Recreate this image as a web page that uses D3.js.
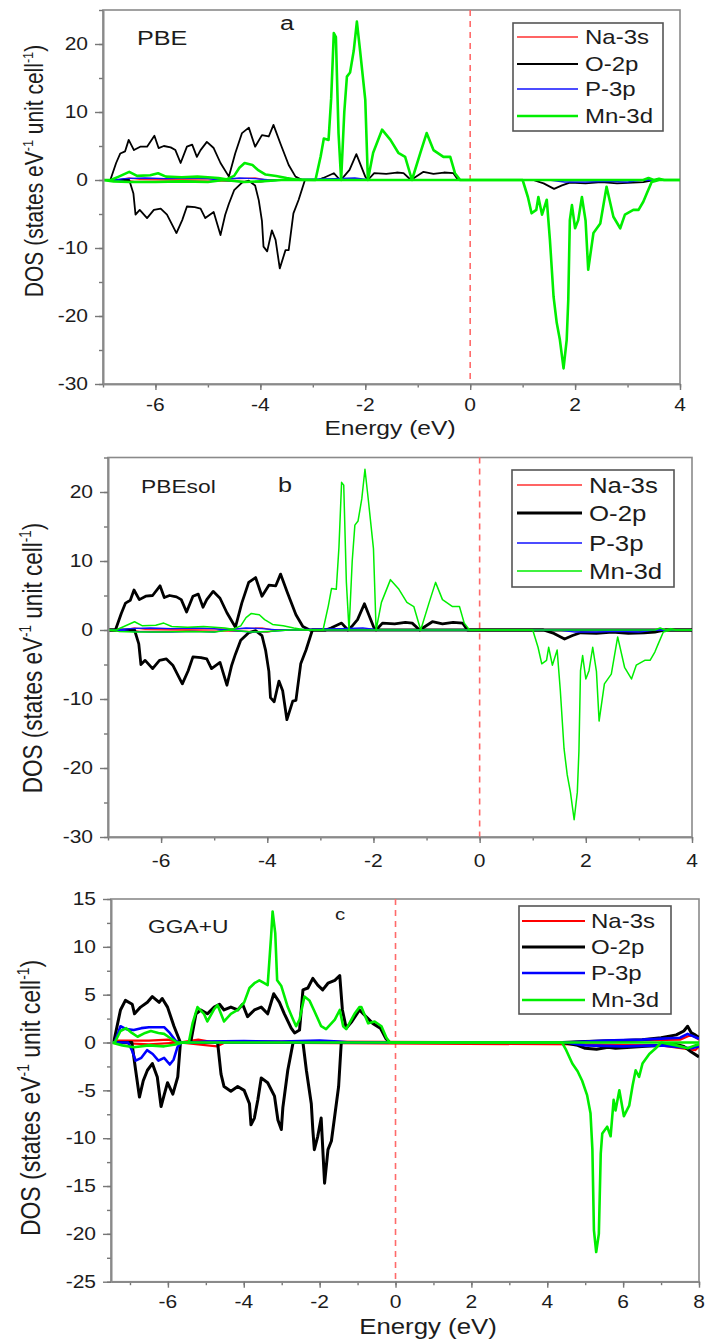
<!DOCTYPE html>
<html><head><meta charset="utf-8">
<script src="https://cdn.jsdelivr.net/npm/d3@7/dist/d3.min.js"></script>
<style>body{margin:0;background:#fff}svg{display:block}</style>
</head><body>
<svg id="chart" width="707" height="1339"></svg>
<script>
// ---------- DATA (energy eV, DOS) ----------
const speciesNames = ["Na-3s", "O-2p", "P-3p", "Mn-3d"];
const xTicksAB = [-6, -4, -2, 0, 2, 4];
const yTicksAB = [-30, -20, -10, 0, 10, 20];
const xTicksC = [-6, -4, -2, 0, 2, 4, 6, 8];
const yTicksC = [-25, -20, -15, -10, -5, 0, 5, 10, 15];

// Panel a : PBE
const pbeO2pUp = [[-7,0],[-6.86,0],[-6.75,2.5],[-6.67,3.9],[-6.58,4.2],[-6.51,5.9],[-6.41,4.4],[-6.29,4.9],[-6.16,4.9],[-6.02,6.5],[-5.94,4.7],[-5.84,5.0],[-5.71,4.8],[-5.62,4.4],[-5.52,2.5],[-5.40,4.9],[-5.30,5.2],[-5.21,3.4],[-5.14,4.4],[-5.02,5.6],[-4.89,4.7],[-4.76,2.5],[-4.60,0.5],[-4.48,3.9],[-4.35,6.9],[-4.22,7.7],[-4.10,4.9],[-3.97,6.6],[-3.84,6.4],[-3.75,8.1],[-3.62,5.4],[-3.46,2.2],[-3.33,0.5],[-3.2,0],[-2.9,0],[-2.8,0.3],[-2.6,1.0],[-2.48,0],[-2.41,0.5],[-2.3,1.5],[-2.17,3.8],[-2.0,0.5],[-1.95,0],[-1.83,1.0],[-1.6,0.9],[-1.4,1.1],[-1.27,1.0],[-1.13,0],[-0.89,1.2],[-0.7,0.9],[-0.5,1.1],[-0.32,1.0],[-0.23,0],[4,0]];
const pbeO2pDown = [[-7,0],[-6.5,0],[-6.42,-2],[-6.38,-5.1],[-6.3,-4.4],[-6.16,-5.6],[-6.03,-4.4],[-5.9,-4.2],[-5.78,-5.1],[-5.6,-7.8],[-5.49,-5.9],[-5.40,-3.9],[-5.25,-4.0],[-5.14,-4.2],[-5.05,-5.6],[-4.89,-4.7],[-4.76,-8.1],[-4.67,-5.1],[-4.6,-3.5],[-4.5,-1.5],[-4.35,-0.4],[-4.22,-0.1],[-4.1,-0.8],[-4.03,-3.0],[-3.97,-6],[-3.94,-9.8],[-3.87,-10.5],[-3.78,-7.4],[-3.71,-8.8],[-3.63,-13.0],[-3.52,-10.3],[-3.46,-10.3],[-3.37,-4.9],[-3.27,-2.9],[-3.15,0],[1.2,0],[1.4,-0.5],[1.6,-1.3],[1.75,-0.8],[1.9,-0.4],[2.2,-0.5],[2.5,-0.3],[2.8,-0.5],[3.1,-0.4],[3.3,-0.3],[3.5,0],[4,0]];
const pbeP3pUp = [[-7,0],[-6.8,0],[-6.6,0.2],[-6.2,0.3],[-5.8,0.2],[-5.4,0.3],[-5.0,0.2],[-4.8,0],[-4.4,0.3],[-4.1,0.2],[-3.8,0],[-2.6,0.2],[-2.2,0.3],[-1.9,0],[4,0]];
const pbeP3pDown = [[-7,0],[-6.8,0],[-6.6,-0.2],[-6.2,-0.3],[-5.8,-0.3],[-5.4,-0.2],[-5.0,-0.3],[-4.8,0],[-4.3,-0.3],[-3.9,-0.2],[-3.6,0],[1.5,0],[1.8,-0.3],[2.2,-0.3],[2.6,-0.2],[3.0,-0.3],[3.3,0],[4,0]];
const pbeNa3sUp = [[-7,0],[-6.7,0],[-6.5,0.3],[-6.3,0.1],[-5.5,0.1],[-4.4,0.2],[-4.1,0.3],[-3.9,0],[4,0]];
const pbeNa3sDown = [[-7,0],[-6.6,0],[-6.4,-0.2],[-5.5,-0.1],[-4.3,-0.2],[-4.0,-0.3],[-3.8,0],[4,0]];
const pbeMn3dUp = [[-7,0],[-6.85,0],[-6.7,0.5],[-6.5,1.2],[-6.35,0.6],[-6.1,0.7],[-5.95,1.0],[-5.8,0.5],[-5.5,0.4],[-5.2,0.5],[-5.0,0.4],[-4.8,0.3],[-4.65,0.1],[-4.5,0.6],[-4.4,1.8],[-4.3,2.5],[-4.15,2.2],[-4.05,1.5],[-3.9,0.8],[-3.7,0.6],[-3.5,0.3],[-3.3,0.05],[-2.95,0],[-2.85,3.5],[-2.79,6.1],[-2.70,5.9],[-2.65,12],[-2.60,21.6],[-2.56,21],[-2.51,6.9],[-2.46,0],[-2.40,10],[-2.35,15.2],[-2.29,15.8],[-2.22,19],[-2.16,23.3],[-2.1,19.1],[-2.0,11.8],[-1.95,0],[-1.85,4],[-1.68,7.4],[-1.52,5.9],[-1.37,4.0],[-1.24,3.4],[-1.11,0],[-0.95,4],[-0.83,6.9],[-0.70,4.4],[-0.51,3.4],[-0.38,3.4],[-0.29,1],[-0.19,0],[3.3,0],[3.4,0.3],[3.5,0],[3.6,0.2],[3.7,0],[4,0]];
const pbeMn3dDown = [[-7,0],[-6.8,-0.2],[-6.5,-0.3],[-6.0,-0.3],[-5.5,-0.2],[-5.0,-0.3],[-4.7,0],[-4.3,-0.3],[-4.0,-0.2],[-3.6,0],[1.0,0],[1.1,-2.5],[1.17,-4.9],[1.26,-4.4],[1.3,-2.5],[1.37,-5.1],[1.46,-2.9],[1.52,-8.8],[1.59,-17.2],[1.65,-21],[1.71,-23.5],[1.78,-27.7],[1.84,-23.5],[1.87,-17.6],[1.90,-5.9],[1.94,-3.7],[2.0,-7.1],[2.06,-5.9],[2.13,-2.5],[2.2,-6],[2.25,-13.2],[2.35,-7.8],[2.48,-6.4],[2.6,-1.0],[2.73,-5.4],[2.86,-7.1],[2.95,-5.1],[3.11,-4.4],[3.21,-4.4],[3.3,-3.2],[3.37,-1.9],[3.46,-0.3],[3.6,0],[4,0]];

// Panel b : PBEsol
const pbesolO2pUp = [[-7,0],[-6.86,0],[-6.75,2.4],[-6.67,3.9],[-6.58,4.3],[-6.51,5.8],[-6.41,4.4],[-6.29,4.9],[-6.16,5.0],[-6.02,6.4],[-5.94,4.7],[-5.84,5.0],[-5.71,4.8],[-5.62,4.4],[-5.52,2.6],[-5.40,4.9],[-5.30,5.2],[-5.21,3.3],[-5.14,4.4],[-5.02,5.6],[-4.89,4.6],[-4.76,2.5],[-4.60,0.4],[-4.48,3.9],[-4.35,6.9],[-4.22,7.6],[-4.10,4.9],[-3.97,6.5],[-3.84,6.4],[-3.75,8.1],[-3.62,5.4],[-3.46,2.2],[-3.33,0.5],[-3.2,0],[-2.9,0],[-2.8,0.3],[-2.6,1.0],[-2.48,0],[-2.41,0.5],[-2.3,1.5],[-2.17,3.8],[-2.0,0.5],[-1.95,0],[-1.83,1.0],[-1.6,0.9],[-1.4,1.1],[-1.27,1.0],[-1.13,0],[-0.89,1.2],[-0.7,0.9],[-0.5,1.1],[-0.32,1.0],[-0.23,0],[4,0]];
const pbesolO2pDown = [[-7,0],[-6.5,0],[-6.42,-2],[-6.38,-5.0],[-6.3,-4.4],[-6.16,-5.6],[-6.03,-4.4],[-5.9,-4.2],[-5.78,-5.1],[-5.6,-7.8],[-5.49,-5.9],[-5.40,-3.9],[-5.25,-4.0],[-5.14,-4.2],[-5.05,-5.6],[-4.89,-4.7],[-4.76,-8.0],[-4.67,-5.1],[-4.6,-3.5],[-4.5,-1.5],[-4.35,-0.4],[-4.22,-0.1],[-4.1,-0.8],[-4.03,-3.0],[-3.97,-6],[-3.94,-9.8],[-3.87,-10.4],[-3.78,-7.4],[-3.71,-8.8],[-3.63,-13.0],[-3.52,-10.3],[-3.46,-10.2],[-3.37,-4.9],[-3.27,-2.9],[-3.15,0],[1.2,0],[1.4,-0.5],[1.6,-1.3],[1.75,-0.8],[1.9,-0.4],[2.2,-0.5],[2.5,-0.3],[2.8,-0.5],[3.1,-0.4],[3.3,-0.3],[3.5,0],[4,0]];
const pbesolP3pUp = [[-7,0],[-6.8,0],[-6.6,0.2],[-6.2,0.3],[-5.8,0.2],[-5.4,0.3],[-5.0,0.2],[-4.8,0],[-4.4,0.3],[-4.1,0.2],[-3.8,0],[-2.6,0.2],[-2.2,0.3],[-1.9,0],[4,0]];
const pbesolP3pDown = [[-7,0],[-6.8,0],[-6.6,-0.2],[-6.2,-0.3],[-5.8,-0.3],[-5.4,-0.2],[-5.0,-0.3],[-4.8,0],[-4.3,-0.3],[-3.9,-0.2],[-3.6,0],[1.5,0],[1.8,-0.3],[2.2,-0.3],[2.6,-0.2],[3.0,-0.3],[3.3,0],[4,0]];
const pbesolNa3sUp = [[-7,0],[-6.7,0],[-6.5,0.3],[-6.3,0.1],[-5.5,0.1],[-4.4,0.2],[-4.1,0.3],[-3.9,0],[4,0]];
const pbesolNa3sDown = [[-7,0],[-6.6,0],[-6.4,-0.2],[-5.5,-0.1],[-4.3,-0.2],[-4.0,-0.3],[-3.8,0],[4,0]];
const pbesolMn3dUp = [[-7,0],[-6.85,0],[-6.7,0.5],[-6.5,1.2],[-6.35,0.6],[-6.1,0.7],[-5.95,1.0],[-5.8,0.5],[-5.5,0.4],[-5.2,0.5],[-5.0,0.4],[-4.8,0.3],[-4.65,0.1],[-4.5,0.6],[-4.4,1.8],[-4.3,2.4],[-4.15,2.2],[-4.05,1.5],[-3.9,0.8],[-3.7,0.6],[-3.5,0.3],[-3.3,0.05],[-2.95,0],[-2.85,3.5],[-2.79,6.0],[-2.70,5.9],[-2.65,12],[-2.60,21.4],[-2.56,21],[-2.51,6.9],[-2.46,0],[-2.40,10],[-2.35,15.2],[-2.29,15.8],[-2.22,19],[-2.16,23.3],[-2.1,19.1],[-2.0,11.8],[-1.95,0],[-1.85,4],[-1.68,7.3],[-1.52,5.9],[-1.37,4.0],[-1.24,3.4],[-1.11,0],[-0.95,4],[-0.83,6.9],[-0.70,4.4],[-0.51,3.4],[-0.38,3.4],[-0.29,1],[-0.19,0],[3.3,0],[3.4,0.3],[3.5,0],[3.6,0.2],[3.7,0],[4,0]];
const pbesolMn3dDown = [[-7,0],[-6.8,-0.2],[-6.5,-0.3],[-6.0,-0.3],[-5.5,-0.2],[-5.0,-0.3],[-4.7,0],[-4.3,-0.3],[-4.0,-0.2],[-3.6,0],[1.0,0],[1.1,-2.5],[1.17,-4.9],[1.26,-4.4],[1.3,-2.5],[1.37,-5.1],[1.46,-2.9],[1.52,-8.8],[1.59,-17.2],[1.65,-21],[1.71,-23.5],[1.78,-27.5],[1.84,-23.5],[1.87,-17.6],[1.90,-5.9],[1.94,-3.7],[2.0,-7.1],[2.06,-5.9],[2.13,-2.5],[2.2,-6],[2.25,-13.2],[2.35,-7.8],[2.48,-6.4],[2.6,-1.0],[2.73,-5.4],[2.86,-7.1],[2.95,-5.1],[3.11,-4.4],[3.21,-4.4],[3.3,-3.2],[3.37,-1.9],[3.46,-0.3],[3.6,0],[4,0]];

// Panel c : GGA+U
const ggauO2pUp = [[-7.5,0],[-7.43,0],[-7.25,3.4],[-7.12,4.4],[-6.94,4.0],[-6.88,3.0],[-6.72,3.7],[-6.54,4.2],[-6.41,4.8],[-6.23,4.2],[-6.15,4.6],[-6.01,3.7],[-5.84,1.7],[-5.67,0],[-5.40,0],[-5.26,3.0],[-5.13,3.4],[-4.96,3.0],[-4.78,3.7],[-4.64,4.0],[-4.52,3.4],[-4.34,3.7],[-4.16,3.4],[-4.03,4.0],[-3.90,2.7],[-3.72,3.4],[-3.54,3.7],[-3.37,3.0],[-3.21,5.1],[-3.06,4.2],[-2.93,3.0],[-2.75,1.5],[-2.66,1.0],[-2.53,1.3],[-2.44,5.5],[-2.31,5.7],[-2.18,6.7],[-2.05,6.0],[-1.92,5.5],[-1.78,6.2],[-1.60,6.5],[-1.47,7.0],[-1.40,3.4],[-1.30,1.5],[-1.15,2.2],[-0.95,3.4],[-0.80,2.8],[-0.60,2.0],[-0.40,1.5],[-0.25,0.4],[-0.15,0],[4.4,0],[5.0,0.1],[6.0,0.2],[6.5,0.3],[7.0,0.5],[7.4,0.8],[7.6,1.2],[7.7,1.7],[7.8,1.0],[7.9,0.8],[8.0,0.5]];
const ggauO2pDown = [[-7.5,0],[-6.95,0],[-6.85,-2.9],[-6.75,-5.7],[-6.65,-4.0],[-6.54,-2.9],[-6.41,-2.2],[-6.28,-3.6],[-6.18,-6.7],[-6.10,-5.5],[-6.01,-4.2],[-5.87,-5.4],[-5.74,-3.6],[-5.67,0],[-4.69,0],[-4.60,-3.3],[-4.52,-4.6],[-4.34,-5.1],[-4.16,-4.6],[-3.99,-5.0],[-3.85,-6.4],[-3.81,-8.6],[-3.72,-7.9],[-3.63,-6.0],[-3.54,-3.7],[-3.37,-4.2],[-3.19,-5.6],[-3.10,-8.1],[-3.01,-9.1],[-2.97,-6.8],[-2.84,-2.9],[-2.70,0],[-2.44,0],[-2.35,-2.9],[-2.22,-6.4],[-2.18,-9.1],[-2.14,-11.2],[-2.05,-9.8],[-1.96,-7.9],[-1.87,-14.7],[-1.78,-11.2],[-1.69,-10.3],[-1.60,-7.6],[-1.50,-4.6],[-1.43,0],[4.4,0],[4.8,-0.3],[5.0,-0.6],[5.3,-0.7],[5.6,-0.5],[5.8,-0.6],[6.2,-0.5],[6.6,-0.4],[7.0,-0.3],[7.4,-0.2],[7.6,-0.4],[7.8,-1.0],[8.0,-1.5]];
const ggauP3pUp = [[-7.5,0],[-7.4,0],[-7.25,1.7],[-7.1,1.4],[-6.9,1.3],[-6.7,1.5],[-6.5,1.6],[-6.3,1.6],[-6.1,1.6],[-5.95,1.0],[-5.8,0.2],[-5.7,0],[-5.4,0],[-5.0,0.1],[-4.0,0.15],[-3.0,0.1],[-2.0,0.2],[-1.5,0.1],[-1.2,0],[4.5,0],[5.5,0.2],[6.5,0.3],[7.5,0.5],[7.7,0.9],[8,0.4]];
const ggauP3pDown = [[-7.5,0],[-7.05,0],[-6.95,-0.8],[-6.85,-1.9],[-6.7,-1.6],[-6.55,-0.8],[-6.4,-1.2],[-6.25,-1.9],[-6.1,-1.6],[-5.95,-2.3],[-5.85,-1.8],[-5.75,-0.5],[-5.65,0],[4.5,0],[5.0,-0.3],[6.0,-0.4],[7.0,-0.3],[7.8,-0.6],[8,-0.4]];
const ggauNa3sUp = [[-7.5,0],[-7.3,0.2],[-6.5,0.2],[-6.0,0.3],[-5.7,0],[-5.2,0.3],[-4.9,0.1],[-4.5,0.1],[-2,0.1],[4.5,0],[6,0.2],[7.5,0.3],[7.8,0.8],[8,0.3]];
const ggauNa3sDown = [[-7.5,0],[-6.5,-0.2],[-5.7,0],[-4.7,-0.4],[-4.5,0],[5,-0.2],[7,-0.3],[7.9,-0.8],[8,-0.4]];
const ggauMn3dUp = [[-7.5,0],[-7.4,0],[-7.25,1.2],[-7.1,1.5],[-6.95,1.0],[-6.8,0.6],[-6.6,1.0],[-6.45,1.2],[-6.25,1.0],[-6.1,0.9],[-5.95,0.5],[-5.75,0],[-5.45,0],[-5.35,2.0],[-5.22,3.7],[-5.05,3.0],[-4.96,2.2],[-4.78,3.5],[-4.69,3.9],[-4.52,2.2],[-4.34,3.0],[-4.16,3.4],[-3.99,4.2],[-3.85,5.7],[-3.72,6.2],[-3.59,6.5],[-3.46,6.2],[-3.37,6.0],[-3.28,11.1],[-3.24,13.7],[-3.17,11.4],[-3.12,6.5],[-3.01,5.9],[-2.84,3.7],[-2.70,2.4],[-2.62,1.7],[-2.53,2.4],[-2.40,4.8],[-2.27,4.4],[-2.14,3.3],[-1.96,1.7],[-1.83,1.4],[-1.60,2.4],[-1.47,3.4],[-1.38,1.7],[-1.30,1.4],[-1.08,3.0],[-0.95,3.7],[-0.90,3.7],[-0.72,2.0],[-0.55,2.2],[-0.37,1.7],[-0.24,0.5],[-0.15,0],[8,0]];
const ggauMn3dDown = [[-7.5,0],[-7.2,-0.3],[-6.9,-0.5],[-6.5,-0.3],[-6.1,-0.4],[-5.8,-0.2],[-5.6,0],[4.39,0],[4.5,-0.8],[4.66,-2.2],[4.80,-3.0],[4.92,-4.0],[5.05,-5.5],[5.14,-7.4],[5.19,-11.2],[5.23,-19.6],[5.29,-21.9],[5.36,-20.0],[5.41,-11.6],[5.45,-9.5],[5.58,-8.8],[5.67,-9.8],[5.75,-6.0],[5.80,-7.1],[5.90,-5.0],[6.02,-7.7],[6.16,-6.6],[6.25,-4.5],[6.33,-2.9],[6.42,-3.6],[6.51,-2.2],[6.69,-1.2],[6.86,-0.6],[7.0,0],[7.4,-0.3],[7.7,-0.6],[7.9,-0.3],[8,-0.2]];

// ---------- DRAWING ----------
const svg = d3.select("#chart");
const FONT = "Arial, 'Liberation Sans', sans-serif";
const SX = 1.2;
const TXT = "#1c1c1c";

function txt(g, x, y, s, size, anchor, dy) {
  return g.append("text")
    .attr("transform", `translate(${x},${y}) scale(${SX},1)`)
    .attr("text-anchor", anchor || "start")
    .attr("dy", dy || 0)
    .attr("font-family", FONT).attr("font-size", size).attr("fill", TXT)
    .text(s);
}

const panels = [
  { id: "a", L: 103, R: 680, T: 10, B: 384, xd: [-7, 4], yd: [-30, 25],
    xt: xTicksAB, xm: d3.range(-7, 4.01, 1), yt: yTicksAB, ym: d3.range(-30, 25.1, 5),
    name: "PBE", nameX: 137, nameY: 45, nameSize: 21, tag: "a", tagX: 280, tagY: 30, tagSize: 21,
    energyTitle: true, etX: 390, etY: 435, etSize: 20.5, tickDy: 27,
    ytX: 43, ytY: 171, ytSize: 21,
    colors: ["#ff3030", "#000", "#1010ff", "#00ee00"], widths: [1.4, 1.8, 1.4, 2.6],
    legend: { L: 513, T: 23, R: 663, B: 131, rows: [37, 64, 89, 116], lx0: 517, lx1: 578, tx: 585, size: 20 },
    series: [[pbeNa3sUp, pbeNa3sDown], [pbeO2pUp, pbeO2pDown], [pbeP3pUp, pbeP3pDown], [pbeMn3dUp, pbeMn3dDown]] },
  { id: "b", L: 108, R: 692, T: 457.5, B: 837, xd: [-7, 4], yd: [-30, 25],
    xt: xTicksAB, xm: d3.range(-7, 4.01, 1), yt: yTicksAB, ym: d3.range(-30, 25.1, 5),
    name: "PBEsol", nameX: 141, nameY: 492.7, nameSize: 19, tag: "b", tagX: 278, tagY: 491.7, tagSize: 21,
    energyTitle: false, tickDy: 30,
    ytX: 42, ytY: 658, ytSize: 22.5,
    colors: ["#ff3030", "#000", "#1010ff", "#00ee00"], widths: [1.4, 2.8, 1.4, 1.5],
    legend: { L: 512, T: 470, R: 674, B: 587, rows: [485, 513, 543, 571], lx0: 517, lx1: 582, tx: 589, size: 21.5 },
    series: [[pbesolNa3sUp, pbesolNa3sDown], [pbesolO2pUp, pbesolO2pDown], [pbesolP3pUp, pbesolP3pDown], [pbesolMn3dUp, pbesolMn3dDown]] },
  { id: "c", L: 111, R: 699, T: 899, B: 1281.7, xd: [-7.5, 8], yd: [-25, 15],
    xt: xTicksC, xm: d3.range(-7, 8.01, 1), yt: yTicksC, ym: d3.range(-25, 15.1, 2.5),
    name: "GGA+U", nameX: 148, nameY: 933.3, nameSize: 19, tag: "c", tagX: 335, tagY: 920, tagSize: 17,
    energyTitle: true, etX: 428, etY: 1333.5, etSize: 21.5, tickDy: 26,
    ytX: 40, ytY: 1098, ytSize: 23,
    colors: ["#ff0000", "#000", "#0000ff", "#00ee00"], widths: [2.2, 3, 2.6, 2.6],
    legend: { L: 519, T: 906, R: 671, B: 1014, rows: [921, 947, 973, 1000], lx0: 522, lx1: 585, tx: 591, size: 20 },
    series: [[ggauNa3sUp, ggauNa3sDown], [ggauO2pUp, ggauO2pDown], [ggauP3pUp, ggauP3pDown], [ggauMn3dUp, ggauMn3dDown]] }
];

panels.forEach(p => {
  const x = d3.scaleLinear().domain(p.xd).range([p.L, p.R]);
  const y = d3.scaleLinear().domain(p.yd).range([p.B, p.T]);
  const g = svg.append("g");

  const clipId = "clip-" + p.id;
  svg.append("clipPath").attr("id", clipId).append("rect")
    .attr("x", p.L).attr("y", p.T).attr("width", p.R - p.L).attr("height", p.B - p.T);

  // frame
  g.append("rect").attr("x", p.L).attr("y", p.T).attr("width", p.R - p.L).attr("height", p.B - p.T)
    .attr("fill", "none").attr("stroke", "#8a8a8a").attr("stroke-width", 1.6);

  // Fermi level
  g.append("line").attr("x1", x(0)).attr("x2", x(0)).attr("y1", p.T).attr("y2", p.B)
    .attr("stroke", "#ff6a6a").attr("stroke-width", 1.6).attr("stroke-dasharray", "6,5");

  // curves
  const line = d3.line().x(d => x(d[0])).y(d => y(d[1]));
  const cg = g.append("g").attr("clip-path", `url(#${clipId})`);
  p.series.forEach((pair, i) => {
    pair.forEach(arr => {
      cg.append("path").attr("d", line(arr)).attr("fill", "none")
        .attr("stroke", p.colors[i]).attr("stroke-width", p.widths[i])
        .attr("stroke-linejoin", "round");
    });
  });

  // axes
  const axStyle = sel => { sel.select(".domain").attr("stroke", "#8a8a8a").attr("stroke-width", 1.6);
    sel.selectAll(".tick line").attr("stroke", "#777").attr("stroke-width", 1.4); sel.selectAll("text").remove(); };
  g.append("g").attr("transform", `translate(0,${p.B})`)
    .call(d3.axisBottom(x).tickValues(p.xm).tickSize(3.5).tickSizeOuter(0)).call(axStyle);
  g.append("g").attr("transform", `translate(0,${p.B})`)
    .call(d3.axisBottom(x).tickValues(p.xt).tickSize(6).tickSizeOuter(0)).call(axStyle);
  g.append("g").attr("transform", `translate(${p.L},0)`)
    .call(d3.axisLeft(y).tickValues(p.ym).tickSize(4).tickSizeOuter(0)).call(axStyle);
  g.append("g").attr("transform", `translate(${p.L},0)`)
    .call(d3.axisLeft(y).tickValues(p.yt).tickSize(8).tickSizeOuter(0)).call(axStyle);

  // tick labels
  p.xt.forEach(v => txt(g, x(v), p.B + p.tickDy, String(v), 17.5, "middle"));
  p.yt.forEach(v => txt(g, p.L - 15, y(v), String(v), 17.5, "end", "0.36em"));

  // titles
  txt(g, p.nameX, p.nameY, p.name, p.nameSize, "start");
  txt(g, p.tagX, p.tagY, p.tag, p.tagSize, "start");
  if (p.energyTitle) txt(g, p.etX, p.etY, "Energy (eV)", p.etSize, "middle");

  const yt = g.append("text")
    .attr("transform", `translate(${p.ytX},${p.ytY}) scale(${SX},1) rotate(-90)`)
    .attr("text-anchor", "middle").attr("font-family", FONT).attr("font-size", p.ytSize).attr("fill", TXT);
  const sup = s => yt.append("tspan").attr("font-size", p.ytSize * 0.6).attr("dy", -p.ytSize * 0.4).text(s);
  const base = s => yt.append("tspan").attr("dy", p.ytSize * 0.4).text(s);
  yt.append("tspan").text("DOS (states eV");
  sup("-1");
  base(" unit cell");
  sup("-1");
  base(")");

  // legend
  const lg = p.legend;
  g.append("rect").attr("x", lg.L).attr("y", lg.T).attr("width", lg.R - lg.L).attr("height", lg.B - lg.T)
    .attr("fill", "#fff").attr("stroke", "#555").attr("stroke-width", 1.6);
  speciesNames.forEach((nm, i) => {
    g.append("line").attr("x1", lg.lx0).attr("x2", lg.lx1).attr("y1", lg.rows[i]).attr("y2", lg.rows[i])
      .attr("stroke", p.colors[i]).attr("stroke-width", p.widths[i]);
    txt(g, lg.tx, lg.rows[i], nm, lg.size, "start", "0.36em");
  });
});
</script>
</body></html>
